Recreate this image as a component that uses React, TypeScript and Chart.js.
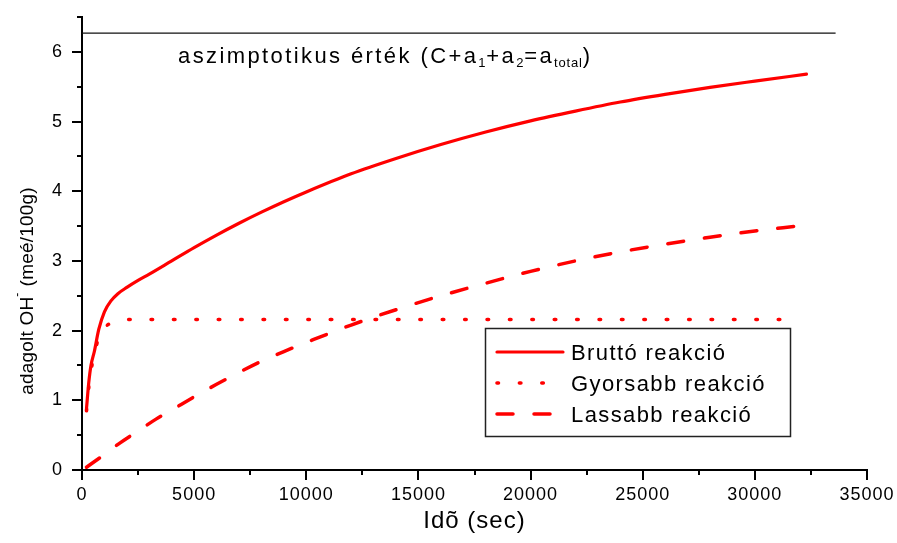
import React, { useEffect, useRef } from 'react';
import { Chart, registerables } from 'chart.js';

Chart.register(...registerables);

// Bruttó (overall) reaction: time in seconds, added OH- in meé/100g
const bruttoTime = [200, 300, 400, 550, 750, 1000, 1300, 1600, 2000, 2500, 3000, 4000, 5000, 6000, 7000, 8000, 9000, 10000, 12000, 14000, 16000, 18000, 20000, 22000, 24000, 26000, 28000, 30000, 32300];
const bruttoValue = [0.88, 1.25, 1.5, 1.7, 2.02, 2.27, 2.43, 2.53, 2.62, 2.72, 2.81, 3.0, 3.19, 3.37, 3.54, 3.7, 3.85, 3.99, 4.25, 4.47, 4.67, 4.85, 5.01, 5.15, 5.28, 5.39, 5.49, 5.58, 5.68];

// Faster partial reaction
const gyorsTime = [200, 300, 400, 550, 750, 1000, 1300, 1600, 2000, 5000, 10000, 15000, 20000, 25000, 31500];
const gyorsValue = [0.85, 1.18, 1.42, 1.67, 1.9, 2.04, 2.11, 2.14, 2.16, 2.16, 2.16, 2.16, 2.16, 2.16, 2.16];

// Slower partial reaction
const lassuTime = [200, 900, 1700, 2500, 3300, 4100, 5000, 6000, 7000, 8000, 9000, 10000, 12000, 14000, 16000, 18000, 20000, 22000, 24000, 26000, 28000, 30000, 31900];
const lassuValue = [0.04, 0.2, 0.39, 0.56, 0.73, 0.88, 1.05, 1.23, 1.4, 1.56, 1.7, 1.83, 2.08, 2.3, 2.5, 2.68, 2.85, 3.0, 3.13, 3.24, 3.34, 3.43, 3.5];

// Asymptotic total value
const asymptoteTime = [0, 33600];
const asymptoteValue = [6.27, 6.27];

const seriesLabels = ['Bruttó reakció', 'Gyorsabb reakció', 'Lassabb reakció'];

const xMajorTicks = [0, 5000, 10000, 15000, 20000, 25000, 30000, 35000];
const xMinorTicks = [2500, 7500, 12500, 17500, 22500, 27500, 32500];
const yMajorTicks = [0, 1, 2, 3, 4, 5, 6];
const yMinorTicks = [0.5, 1.5, 2.5, 3.5, 4.5, 5.5, 6.5];

const xTitle = 'Idõ (sec)';
// [text, font size, baseline shift]
const yTitleParts: [string, number, number][] = [
  ['adagolt OH', 19, 0],
  ['-', 12, -12],
  [' (meé/100g)', 19, 0],
];
const asymptoteLabelParts: [string, number, number][] = [
  ['aszimptotikus érték (C+a', 22, 0],
  ['1', 13, 3.5],
  ['+a', 22, 0],
  ['2', 13, 3.5],
  ['=a', 22, 0],
  ['total', 13, 3.5],
  [')', 22, 0],
];

const FONT = "'Liberation Sans', Arial, Helvetica, sans-serif";
const RED = '#ff0000';

const toPoints = (xs: number[], ys: number[]) => xs.map((x, i) => ({ x, y: ys[i] }));

function drawParts(ctx: CanvasRenderingContext2D, parts: [string, number, number][], x: number, y: number, spacing: number) {
  let cx = x;
  for (const [text, size, dy] of parts) {
    ctx.font = `${size}px ${FONT}`;
    ctx.letterSpacing = `${size > 15 ? spacing : 0.8}px`;
    ctx.fillText(text, cx, y + dy);
    cx += ctx.measureText(text).width;
  }
  return cx - x;
}

function measureParts(ctx: CanvasRenderingContext2D, parts: [string, number, number][], spacing: number) {
  let w = 0;
  for (const [text, size] of parts) {
    ctx.font = `${size}px ${FONT}`;
    ctx.letterSpacing = `${size > 15 ? spacing : 0.8}px`;
    w += ctx.measureText(text).width;
  }
  return w;
}

const decorPlugin = {
  id: 'decor',
  beforeDraw(chart: any) {
    chart.ctx.letterSpacing = '1px';
  },
  afterDraw(chart: any) {
    const { ctx, chartArea } = chart;
    const xs = chart.scales.x;
    const ys = chart.scales.y;
    ctx.save();

    // axis tick marks (major and minor), pointing outward
    ctx.strokeStyle = '#000';
    ctx.lineWidth = 2;
    ctx.setLineDash([]);
    const xTick = (v: number, len: number) => {
      const p = Math.round(xs.getPixelForValue(v));
      ctx.beginPath();
      ctx.moveTo(p, chartArea.bottom);
      ctx.lineTo(p, chartArea.bottom + len);
      ctx.stroke();
    };
    const yTick = (v: number, len: number) => {
      const p = Math.round(ys.getPixelForValue(v));
      ctx.beginPath();
      ctx.moveTo(chartArea.left, p);
      ctx.lineTo(chartArea.left - len, p);
      ctx.stroke();
    };
    xMajorTicks.forEach((v) => xTick(v, 10));
    xMinorTicks.forEach((v) => xTick(v, 5));
    yMajorTicks.forEach((v) => yTick(v, 10));
    yMinorTicks.forEach((v) => yTick(v, 5));

    ctx.fillStyle = '#000';
    ctx.textBaseline = 'alphabetic';
    ctx.textAlign = 'left';

    // x axis title
    ctx.font = `24px ${FONT}`;
    ctx.letterSpacing = '1px';
    const xtw = ctx.measureText(xTitle).width;
    ctx.fillText(xTitle, (chartArea.left + chartArea.right) / 2 - xtw / 2, 528);

    // y axis title, rotated
    ctx.save();
    const ytw = measureParts(ctx, yTitleParts, 0.2);
    ctx.translate(33, 291);
    ctx.rotate(-Math.PI / 2);
    drawParts(ctx, yTitleParts, -ytw / 2, 0, 0.2);
    ctx.restore();

    // asymptote label
    drawParts(ctx, asymptoteLabelParts, 178, 63, 2.4);

    // legend box
    const bx = 485, by = 328, bw = 305, bh = 108;
    ctx.lineWidth = 1.5;
    ctx.strokeStyle = '#222';
    ctx.strokeRect(bx + 0.5, by + 0.5, bw, bh);
    const rows = [352, 383, 414];
    const sampleEnd = [563, 560, 551];
    chart.data.datasets.slice(0, 3).forEach((ds: any, i: number) => {
      ctx.save();
      ctx.strokeStyle = ds.borderColor;
      ctx.lineWidth = ds.borderWidth;
      ctx.lineCap = ds.borderCapStyle || 'butt';
      ctx.setLineDash(ds.borderDash || []);
      ctx.beginPath();
      ctx.moveTo(497, rows[i]);
      ctx.lineTo(sampleEnd[i], rows[i]);
      ctx.stroke();
      ctx.restore();
      ctx.font = `22px ${FONT}`;
      ctx.letterSpacing = '1.4px';
      ctx.fillStyle = '#000';
      ctx.fillText(seriesLabels[i], 571, rows[i] + 8);
    });

    ctx.restore();
  },
};

const clearScalePadding = (scale: any) => {
  scale.paddingTop = 0;
  scale.paddingBottom = 0;
  scale.paddingLeft = 0;
  scale.paddingRight = 0;
};

export default function App() {
  const canvasRef = useRef<HTMLCanvasElement | null>(null);

  useEffect(() => {
    if (!canvasRef.current) return;
    const chart = new Chart(canvasRef.current, {
      type: 'line',
      data: {
        datasets: [
          {
            label: seriesLabels[0],
            data: toPoints(bruttoTime, bruttoValue),
            borderColor: RED,
            borderWidth: 3.2,
            borderCapStyle: 'round',
            pointRadius: 0,
            cubicInterpolationMode: 'monotone',
            fill: false,
          },
          {
            label: seriesLabels[1],
            data: toPoints(gyorsTime, gyorsValue),
            borderColor: RED,
            borderWidth: 3.6,
            borderDash: [1.5, 20.9],
            borderCapStyle: 'round',
            pointRadius: 0,
            cubicInterpolationMode: 'monotone',
            fill: false,
          },
          {
            label: seriesLabels[2],
            data: toPoints(lassuTime, lassuValue),
            borderColor: RED,
            borderWidth: 3.5,
            borderDash: [16, 21],
            borderCapStyle: 'round',
            pointRadius: 0,
            cubicInterpolationMode: 'monotone',
            fill: false,
          },
          {
            label: 'asymptote',
            data: toPoints(asymptoteTime, asymptoteValue),
            borderColor: '#111',
            borderWidth: 1.2,
            pointRadius: 0,
            fill: false,
          },
        ],
      },
      options: {
        animation: false,
        responsive: true,
        maintainAspectRatio: false,
        layout: { autoPadding: false, padding: { top: 17, right: 30, left: 0, bottom: 0 } },
        plugins: { legend: { display: false }, tooltip: { enabled: false } },
        scales: {
          x: {
            type: 'linear',
            min: 0,
            max: 35000,
            afterBuildTicks: (scale: any) => {
              scale.ticks = xMajorTicks.map((v) => ({ value: v }));
            },
            afterFit: (scale: any) => {
              scale.height = 73;
              clearScalePadding(scale);
            },
            ticks: {
              color: '#000',
              font: { family: FONT, size: 18 },
              padding: 14,
              maxRotation: 0,
              autoSkip: false,
              callback: (v: any) => String(v),
            },
            grid: { display: false, drawTicks: false },
            border: { display: true, color: '#000', width: 2 },
          },
          y: {
            type: 'linear',
            min: 0,
            max: 6.5,
            afterBuildTicks: (scale: any) => {
              scale.ticks = yMajorTicks.map((v) => ({ value: v }));
            },
            afterFit: (scale: any) => {
              scale.width = 82;
              clearScalePadding(scale);
            },
            ticks: {
              color: '#000',
              font: { family: FONT, size: 18 },
              padding: 19,
              autoSkip: false,
              callback: (v: any) => String(v),
            },
            grid: { display: false, drawTicks: false },
            border: { display: true, color: '#000', width: 2 },
          },
        },
      },
      plugins: [decorPlugin],
    } as any);
    return () => chart.destroy();
  }, []);

  return (
    <div style={{ position: 'absolute', left: 0, top: 0, width: 897, height: 543, background: '#fff' }}>
      <canvas ref={canvasRef} />
    </div>
  );
}
